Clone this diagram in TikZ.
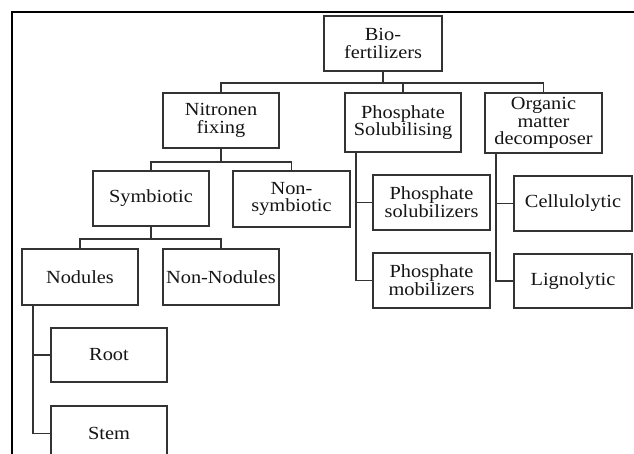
\documentclass[tikz,border=0pt]{standalone}
\usepackage{fontspec}
\setmainfont{Liberation Serif}[FakeStretch=1.1]
\definecolor{boxc}{HTML}{333333}
\definecolor{txtc}{HTML}{151515}
\tikzset{
  box/.style={draw=boxc, line width=1.8pt, inner sep=0pt, align=center, text=txtc,
    font=\fontsize{18.5}{17.8}\selectfont, minimum width=116pt, minimum height=55pt},
  conn/.style={draw=boxc, line width=1.8pt},
  frame/.style={draw=black, line width=2.2pt}
}
\begin{document}
\begin{tikzpicture}[x=1pt, y=-1pt]
\clip (0,0) rectangle (634,454);
\fill[white] (0,0) rectangle (634,454);
\draw[frame] (640,12) -- (12,12) -- (12,460);

\node[box, minimum width=118pt] (bio) at (383,43.5) {Bio-\\fertilizers};
\node[box] (nit) at (221,120.5) {Nitronen\\fixing};
\node[box, minimum height=59pt] (phs) at (403,122.5) {Phosphate\\Solubilising};
\node[box, minimum width=117pt, minimum height=60pt] (org) at (543.5,123) {Organic\\matter\\decomposer};

\node[box] (sym) at (151,198.5) {Symbiotic};
\node[box, minimum width=117pt, minimum height=56pt] (nsym) at (291.5,199) {Non-\\symbiotic};
\node[box, minimum height=56pt] (nod) at (80,277) {Nodules};
\node[box, minimum height=56pt] (nnod) at (221,277) {Non-Nodules};
\node[box, minimum height=54pt] (root) at (109,355) {Root};
\node[box] (stem) at (109,433.5) {Stem};

\node[box, minimum width=117pt] (psol) at (431.5,202.5) {Phosphate\\solubilizers};
\node[box, minimum width=117pt] (pmob) at (431.5,280.5) {Phosphate\\mobilizers};
\node[box, minimum width=118pt] (cel) at (573,203.5) {Cellulolytic};
\node[box, minimum width=118pt, minimum height=54pt] (lig) at (573,281) {Lignolytic};

% level 1
\draw[conn] (bio.south) -- ++(0,11) coordinate (b1);
\draw[conn] (nit.north) |- (b1) -| (org.north);
\draw[conn] (phs.north) -- (phs.north |- b1);
% nitrogen fixing
\draw[conn] (nit.south) -- ++(0,13) coordinate (n1);
\draw[conn] (sym.north) |- (n1) -| (nsym.north);
% symbiotic
\draw[conn] (sym.south) -- ++(0,12) coordinate (s1);
\draw[conn] (nod.north) |- (s1) -| (nnod.north);
% nodules
\coordinate (nv) at ([xshift=12pt]nod.south west);
\draw[conn] (nv) |- (root.west);
\draw[conn] (nv) |- (stem.west);
% phosphate
\coordinate (pv) at ([xshift=12pt]phs.south west);
\draw[conn] (pv) |- (psol.west);
\draw[conn] (pv) |- (pmob.west);
% organic
\coordinate (ov) at ([xshift=12pt]org.south west);
\draw[conn] (ov) |- (cel.west);
\draw[conn] (ov) |- (lig.west);
\end{tikzpicture}
\end{document}
